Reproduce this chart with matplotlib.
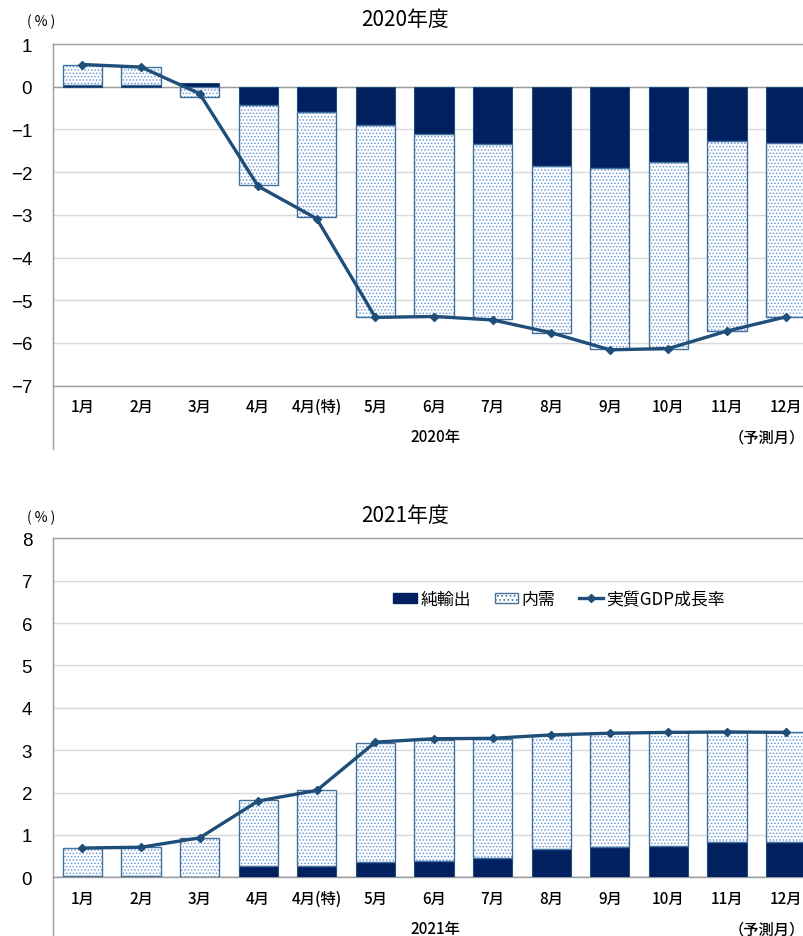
import matplotlib
matplotlib.use("Agg")
import matplotlib.pyplot as plt
import numpy as np
from matplotlib.patches import Patch
from matplotlib.lines import Line2D

plt.rcParams['font.family'] = ['Noto Sans CJK JP', 'DejaVu Sans']
plt.rcParams['hatch.linewidth'] = 0.7

# ---- data -------------------------------------------------------------
months = ["1月", "2月", "3月", "4月", "4月(特)", "5月", "6月",
          "7月", "8月", "9月", "10月", "11月", "12月"]

# FY2020 contributions (%)
net_2020 = [0.03, 0.03, 0.08, -0.42, -0.60, -0.89, -1.11, -1.33, -1.86, -1.90, -1.76, -1.27, -1.31]
dom_2020 = [0.48, 0.44, -0.24, -1.89, -2.46, -4.49, -4.26, -4.11, -3.91, -4.25, -4.38, -4.44, -4.07]
gdp_2020 = [0.52, 0.46, -0.16, -2.33, -3.09, -5.40, -5.38, -5.46, -5.76, -6.16, -6.13, -5.72, -5.39]

# FY2021 contributions (%)
net_2021 = [0.02, 0.02, 0.01, 0.27, 0.27, 0.37, 0.39, 0.45, 0.67, 0.71, 0.75, 0.83, 0.83]
dom_2021 = [0.66, 0.69, 0.92, 1.55, 1.79, 2.80, 2.86, 2.82, 2.69, 2.69, 2.67, 2.60, 2.59]
gdp_2021 = [0.69, 0.71, 0.93, 1.80, 2.05, 3.19, 3.27, 3.28, 3.36, 3.40, 3.42, 3.43, 3.42]

legend_labels = ["純輸出", "内需", "実質GDP成長率"]

# ---- styling ----------------------------------------------------------
NAVY = '#002060'
EDGE = '#41719C'
DOT = '#6E9BDB'
LINE = '#1F4E79'
GRID = '#D9D9D9'
AXIS = '#9C9C9C'
HATCH = '.....'
W = 0.67
XLAB_SIZE = 11

W_PX, H_PX = 804, 937
fig = plt.figure(figsize=(W_PX / 100, H_PX / 100), dpi=100)


def fx(px):
    return px / W_PX


def fy(py):
    return 1 - py / H_PX


def dotted_bar(ax, x, vals, bottom):
    ax.bar(x, vals, bottom=bottom, width=W, color='white', edgecolor=DOT,
           hatch=HATCH, linewidth=0, zorder=2)
    ax.bar(x, vals, bottom=bottom, width=W, fill=False, edgecolor=EDGE,
           linewidth=1.0, zorder=3)


def draw_panel(ax, net, dom, gdp, ylim, yticks):
    x = np.arange(len(months))
    pos = np.zeros(len(x))
    neg = np.zeros(len(x))
    net = np.asarray(net)
    dom = np.asarray(dom)

    base = np.where(net >= 0, pos, neg)
    ax.bar(x, net, bottom=base, width=W, color=NAVY, edgecolor=LINE,
           linewidth=0.8, zorder=3)
    pos = pos + np.where(net >= 0, net, 0)
    neg = neg + np.where(net < 0, net, 0)

    base = np.where(dom >= 0, pos, neg)
    dotted_bar(ax, x, dom, base)

    ax.plot(x, gdp, color=LINE, linewidth=2.4, marker='D', markersize=4.5,
            zorder=5)

    ax.set_xlim(-0.5, len(x) - 0.5)
    ax.set_ylim(*ylim)
    ax.set_yticks(yticks)
    ax.set_yticklabels([f"{t:d}".replace('-', '\u2212') for t in yticks],
                       fontfamily='Liberation Sans', fontsize=13.5)
    ax.set_xticks(x)
    ax.set_xticklabels(months, fontsize=XLAB_SIZE, fontweight='medium')
    ax.tick_params(axis='both', length=0)
    ax.tick_params(axis='y', pad=15)
    ax.tick_params(axis='x', pad=9)
    ax.yaxis.grid(True, color=GRID, linewidth=1.0, zorder=0)
    ax.set_axisbelow(True)
    ax.axhline(0, color=AXIS, linewidth=1.0, zorder=1)
    for side in ('top', 'bottom', 'left'):
        ax.spines[side].set_color(AXIS)
        ax.spines[side].set_linewidth(1.0)
    ax.spines['right'].set_visible(False)


def panel_texts(title, year, y_title, y_year):
    fig.text(fx(405), fy(y_title), title, ha='center', va='center', fontsize=15)
    fig.text(fx(41), fy(y_title + 2), "( % )", ha='center', va='center',
             fontsize=10)
    fig.text(fx(435), fy(y_year), year, ha='center', va='center',
             fontsize=XLAB_SIZE, fontweight='medium')
    fig.text(fx(767), fy(y_year), "（予測月）", ha='center', va='center',
             fontsize=XLAB_SIZE, fontweight='medium')


# ---- FY2020 panel -----------------------------------------------------
ax1 = fig.add_axes([fx(53), fy(386.7), fx(815) - fx(53), (386.7 - 45) / H_PX])
draw_panel(ax1, net_2020, dom_2020, gdp_2020, (-7, 1), list(range(-7, 2)))
panel_texts("2020年度", "2020年", 20, 438)
fig.add_artist(Line2D([fx(53), fx(53)], [fy(386.7), fy(450)],
                      transform=fig.transFigure, color=AXIS, linewidth=1.0))

# ---- FY2021 panel -----------------------------------------------------
ax2 = fig.add_axes([fx(53), fy(878.3), fx(815) - fx(53), (878.3 - 539.3) / H_PX])
draw_panel(ax2, net_2021, dom_2021, gdp_2021, (0, 8), list(range(0, 9)))
panel_texts("2021年度", "2021年", 516, 930)
fig.add_artist(Line2D([fx(53), fx(53)], [fy(878.3), fy(937)],
                      transform=fig.transFigure, color=AXIS, linewidth=1.0))

handles = [
    Patch(facecolor=NAVY, edgecolor=NAVY),
    Patch(facecolor='white', edgecolor=EDGE, hatch='....'),
    Line2D([0], [0], color=LINE, linewidth=2.4, marker='D', markersize=4.5),
]
ax2.legend(handles, legend_labels, loc='center', ncol=3, frameon=False,
           bbox_to_anchor=(fx(559), fy(600)), bbox_transform=fig.transFigure,
           fontsize=12.2, handlelength=1.4, handleheight=0.55,
           handletextpad=0.2, columnspacing=1.4)

fig.savefig("out.png", dpi=100)
